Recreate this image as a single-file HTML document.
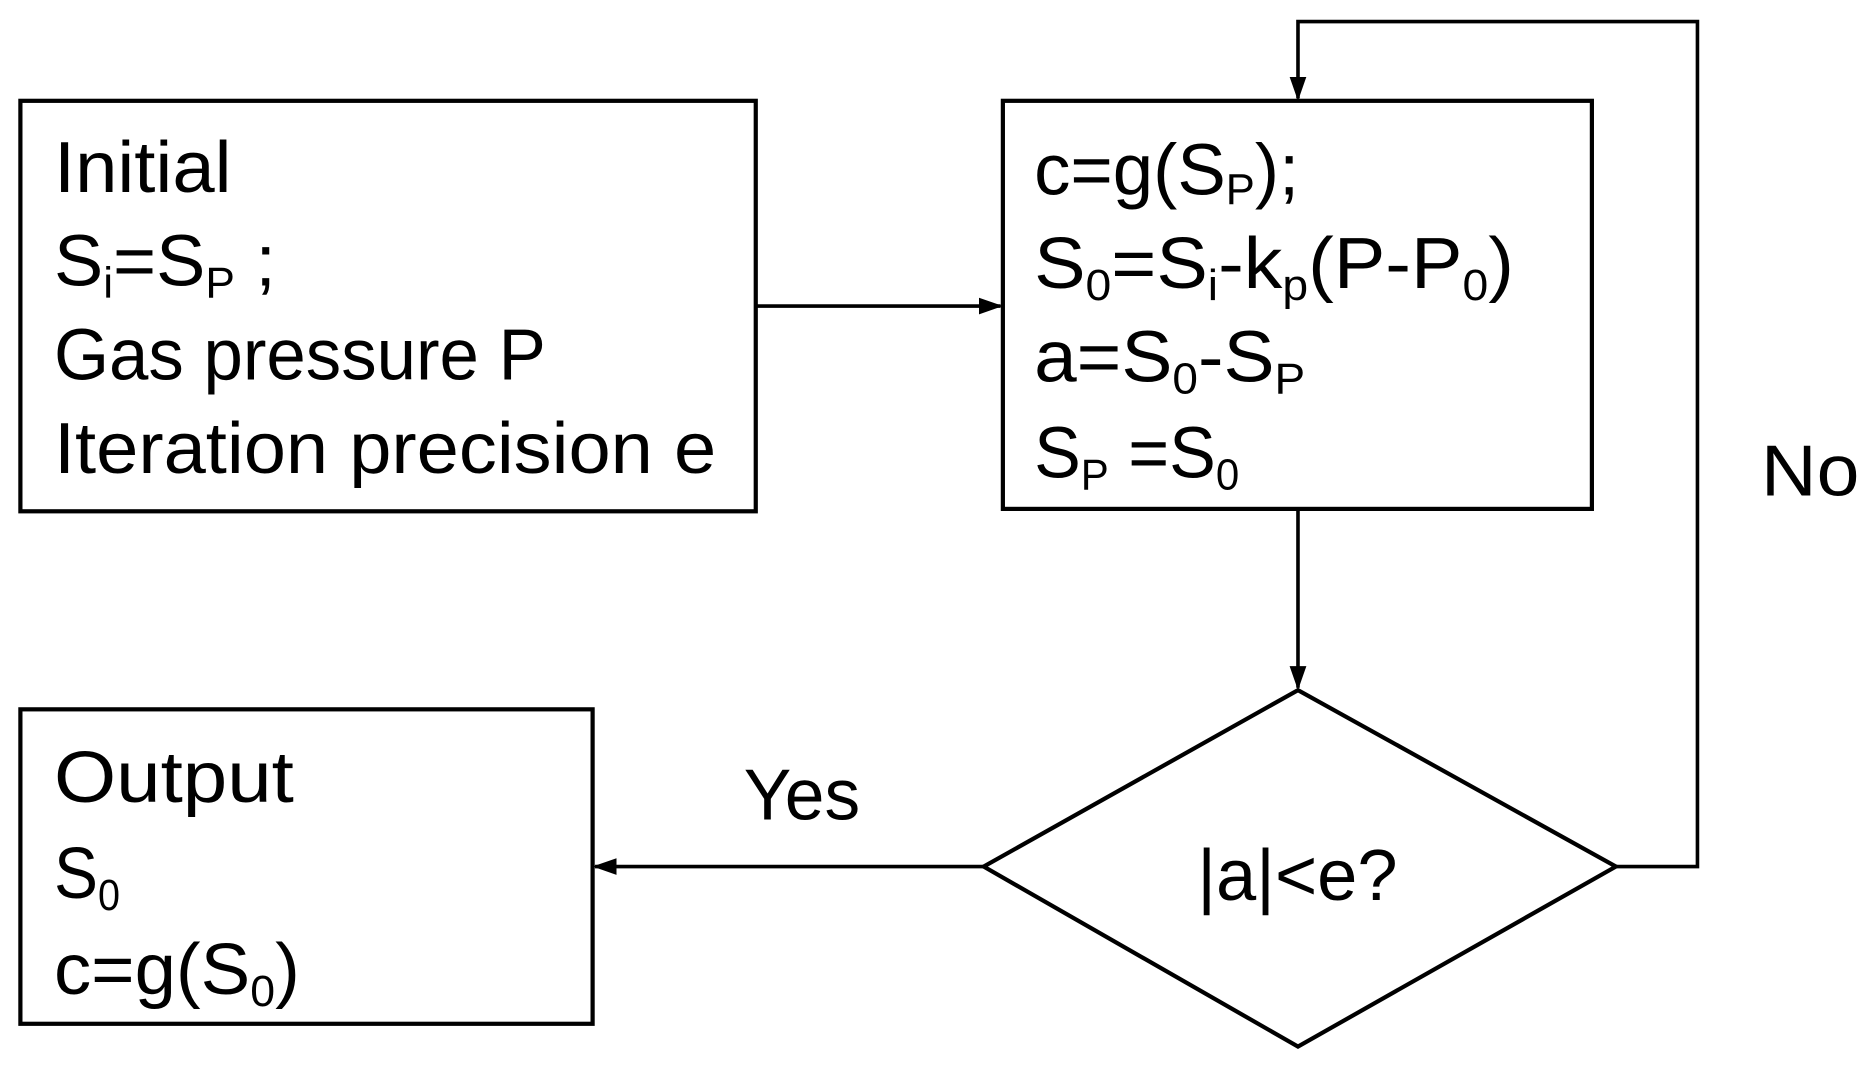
<!DOCTYPE html>
<html><head><meta charset="utf-8"><style>html,body{margin:0;padding:0;background:#fff}svg{display:block}</style></head>
<body>
<svg width="1875" height="1067" viewBox="0 0 1563 889" preserveAspectRatio="none" xmlns="http://www.w3.org/2000/svg">
<defs><marker id="a" markerWidth="20" markerHeight="20" refX="18" refY="10" orient="auto" markerUnits="userSpaceOnUse" viewBox="0 0 20 20"><path d="M0,3 L20,10 L0,17 z" fill="#000"/></marker></defs>
<g fill="none" stroke="#000" stroke-width="3.5">
<rect x="17" y="84" width="613" height="342"/>
<rect x="836" y="84" width="491" height="340"/>
<rect x="17" y="591" width="477" height="262"/>
<polygon points="820,722 1082,575 1347,722 1082,872"/>
</g>
<g fill="none" stroke="#000" stroke-width="3">
<line x1="630" y1="255" x2="834" y2="255" marker-end="url(#a)"/>
<line x1="1082" y1="424" x2="1082" y2="573" marker-end="url(#a)"/>
<polyline points="1347,722 1415,722 1415,18 1082,18 1082,82" marker-end="url(#a)"/>
<line x1="820" y1="722" x2="496" y2="722" marker-end="url(#a)"/>
</g>
<g font-family="Liberation Sans, sans-serif" font-size="60" fill="#000" lengthAdjust="spacingAndGlyphs">
<text x="45" y="160" textLength="148" lengthAdjust="spacingAndGlyphs">Initial</text>
<text x="45" y="238" textLength="185" lengthAdjust="spacingAndGlyphs">S<tspan font-size="36" dy="10">i</tspan><tspan dy="-10">=S</tspan><tspan font-size="36" dy="10">P</tspan><tspan dy="-10">  ;</tspan></text>
<text x="45" y="316" textLength="410" lengthAdjust="spacingAndGlyphs">Gas pressure P</text>
<text x="45" y="394" textLength="552" lengthAdjust="spacingAndGlyphs">Iteration precision e</text>
<text x="862" y="162" textLength="221" lengthAdjust="spacingAndGlyphs">c=g(S<tspan font-size="36" dy="8">P</tspan><tspan dy="-8">);</tspan></text>
<text x="862" y="240" textLength="400" lengthAdjust="spacingAndGlyphs">S<tspan font-size="36" dy="10">0</tspan><tspan dy="-10">=S</tspan><tspan font-size="36" dy="10">i</tspan><tspan dy="-10">-k</tspan><tspan font-size="36" dy="10">p</tspan><tspan dy="-10">(P-P</tspan><tspan font-size="36" dy="10">0</tspan><tspan dy="-10">)</tspan></text>
<text x="862" y="318" textLength="226" lengthAdjust="spacingAndGlyphs">a=S<tspan font-size="36" dy="10">0</tspan><tspan dy="-10">-S</tspan><tspan font-size="36" dy="10">P</tspan></text>
<text x="862" y="398" textLength="171" lengthAdjust="spacingAndGlyphs">S<tspan font-size="36" dy="10">P</tspan><tspan dy="-10"> =S</tspan><tspan font-size="36" dy="10">0</tspan></text>
<text x="45" y="668" textLength="200" lengthAdjust="spacingAndGlyphs">Output</text>
<text x="45" y="748" textLength="55" lengthAdjust="spacingAndGlyphs">S<tspan font-size="36" dy="10">0</tspan></text>
<text x="45" y="828" textLength="205" lengthAdjust="spacingAndGlyphs">c=g(S<tspan font-size="36" dy="10">0</tspan><tspan dy="-10">)</tspan></text>
<text x="620" y="683" textLength="97" lengthAdjust="spacingAndGlyphs">Yes</text>
<text x="1468" y="413" textLength="82" lengthAdjust="spacingAndGlyphs">No</text>
<text x="998" y="750" textLength="167" lengthAdjust="spacingAndGlyphs">|a|&lt;e?</text>
</g>
</svg>
</body></html>
